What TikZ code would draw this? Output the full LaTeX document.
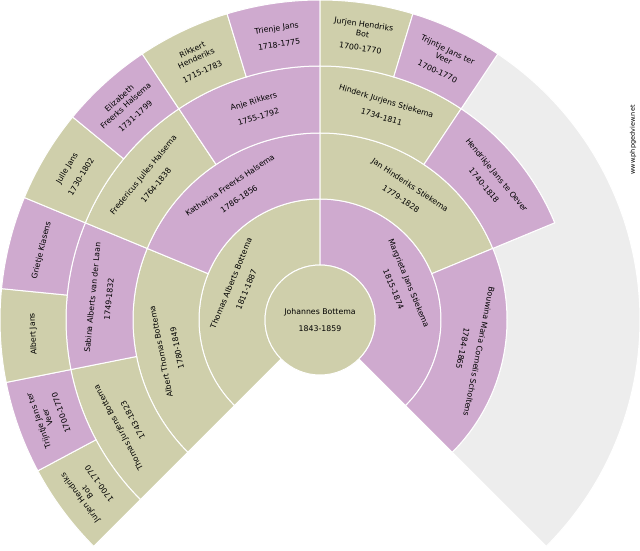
\documentclass[tikz,border=0pt]{standalone}
\usepackage{fontspec}
\setmainfont{DejaVu Sans}
\definecolor{olive}{HTML}{CFCFAB}
\definecolor{lilac}{HTML}{CFAACF}
\definecolor{blank}{HTML}{EDEDED}
\tikzset{
    person/.style={font=\fontsize{7.8}{9.5}\selectfont, align=center, inner sep=1pt},
    gap/.style={draw=white, line width=1pt}
}
% sector: name, inner r, outer r, start angle, end angle, colour, text
\newcommand{\sector}[7]{
    \filldraw[#6, gap] (#4:#2) arc (#4:#5:#2) -- (#5:#3) arc (#5:#4:#3) -- cycle;
    \pgfmathsetmacro{\mid}{(#4+#5)/2}
    \pgfmathsetmacro{\rot}{\mid-90}
    \node[person, rotate=\rot] (#1) at (\mid:{(#2+#3)/2}) {#7};
}
\begin{document}
\begin{tikzpicture}[x=1pt,y=1pt]
    \useasboundingbox (0,0) rectangle (640,550);
    \begin{scope}[shift={(320,230)}]
        % unknown ancestors
        \filldraw[blank, gap] (-45:187) arc (-45:22.5:187) -- (22.5:254) arc (22.5:56.25:254)
            -- (56.25:320) arc (56.25:-45:320) -- cycle;
        % parents
        \sector{thomas}{55}{121}{90}{225}{olive}{Thomas Alberts Bottema\\[7pt]1811-1887}
        \sector{margrieta}{55}{121}{-45}{90}{lilac}{Margrieta Jans Stiekema\\[7pt]1815-1874}
        % grandparents
        \sector{albert}{121}{187}{157.5}{225}{olive}{Albert Thomas Bottema\\[7pt]1780-1849}
        \sector{katharina}{121}{187}{90}{157.5}{lilac}{Katharina Freerks Halsema\\[7pt]1786-1856}
        \sector{jan}{121}{187}{22.5}{90}{olive}{Jan Hinderiks Stiekema\\[7pt]1779-1828}
        \sector{bouwina}{121}{187}{-45}{22.5}{lilac}{Bouwina Maria Cornelis Scholtens\\[7pt]1784-1865}
        % great-grandparents
        \sector{thomasj}{187}{254}{191.25}{225}{olive}{Thomas Jurjens Bottema\\[7pt]1743-1823}
        \sector{sabina}{187}{254}{157.5}{191.25}{lilac}{Sabina Alberts van der Laan\\[7pt]1749-1832}
        \sector{fredericus}{187}{254}{123.75}{157.5}{olive}{Fredericus Julles Halsema\\[7pt]1764-1838}
        \sector{anje}{187}{254}{90}{123.75}{lilac}{Anje Rikkers\\[7pt]1755-1792}
        \sector{hinderk}{187}{254}{56.25}{90}{olive}{Hinderk Jurjens Stiekema\\[7pt]1734-1811}
        \sector{hendrikje}{187}{254}{22.5}{56.25}{lilac}{Hendrikje Jans te Oever\\[7pt]1740-1818}
        % great-great-grandparents
        \sector{jurjenA}{254}{320}{208.125}{225}{olive}{Jurjen Hendriks\\Bot\\[5pt]1700-1770}
        \sector{trijntjeA}{254}{320}{191.25}{208.125}{lilac}{Trijntje Jans ter\\Veer\\[5pt]1700-1770}
        \sector{albertj}{254}{320}{174.375}{191.25}{olive}{Albert Jans}
        \sector{grietje}{254}{320}{157.5}{174.375}{lilac}{Grietje Klasens}
        \sector{julle}{254}{320}{140.625}{157.5}{olive}{Julle Jans\\[7pt]1730-1802}
        \sector{elizabeth}{254}{320}{123.75}{140.625}{lilac}{Elizabeth\\Freerks Halsema\\[5pt]1731-1799}
        \sector{rikkert}{254}{320}{106.875}{123.75}{olive}{Rikkert\\Henderiks\\[5pt]1715-1783}
        \sector{trienje}{254}{320}{90}{106.875}{lilac}{Trienje Jans\\[7pt]1718-1775}
        \sector{jurjenB}{254}{320}{73.125}{90}{olive}{Jurjen Hendriks\\Bot\\[5pt]1700-1770}
        \sector{trijntjeB}{254}{320}{56.25}{73.125}{lilac}{Trijntje Jans ter\\Veer\\[5pt]1700-1770}
        % root person
        \filldraw[olive, gap] (0,0) circle (55);
        \node[person] (johannes) at (0,0) {Johannes Bottema\\[7pt]1843-1859};
    \end{scope}
    \node[font=\fontsize{6.5}{7}\selectfont, rotate=90] (site) at (633,410) {www.phpgedview.net};
\end{tikzpicture}
\end{document}
